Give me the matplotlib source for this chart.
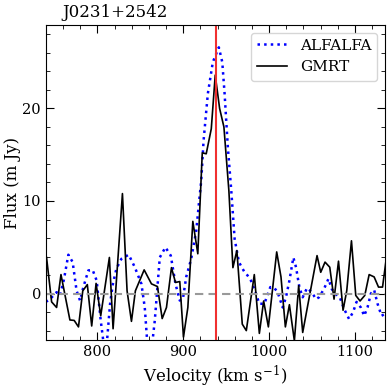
import matplotlib
matplotlib.use("Agg")
import matplotlib.pyplot as plt
from matplotlib.ticker import MultipleLocator

plt.rcParams['font.family'] = 'DejaVu Serif'
plt.rcParams['mathtext.fontset'] = 'dejavuserif'

# ALFALFA spectrum
alfalfa_v = [740, 744.8, 752.5, 756.5, 761, 766.2, 771.2, 775.8, 779.8, 783.7, 789.5, 794.5,
             799.2, 803.9, 807, 810, 814.8, 818, 822.2, 828, 836.5, 843.6, 851.3, 855.2, 858.3,
             862, 866.9, 872.7, 879.3, 885.5, 891, 896, 899.6, 903.5, 909.3, 915.2, 919, 921,
             923.7, 928.7, 934.5, 941.5, 945.5, 948.2, 952, 956, 959.9, 964.9, 971.5, 975,
             978.9, 983.5, 988.7, 994.5, 1001.5, 1006.2, 1010, 1015.9, 1019.7, 1023.7, 1028.3,
             1031.4, 1035.3, 1039.2, 1044.2, 1049.7, 1054.7, 1058.2, 1064, 1069.2, 1073,
             1076.9, 1082.4, 1087.4, 1093.2, 1097.9, 1101.9, 1106.9, 1110.8, 1114.7, 1118.6,
             1122.4, 1126.4, 1131, 1135]
alfalfa_f = [-0.9, -0.6, 0.15, -0.2, 1.5, 4.2, 3.4, 0.3, -0.75, 0.7, 2.5, 2.55,
             1.4, -2.9, -5.2, -6.5, -1.1, 1.0, 2.7, 3.75, 4.2, 2.85, 1.05, -1.5, -5.5,
             -7.0, -2.9, 3.9, 5.0, 4.1, 1.05, -0.75, -0.6, 1.8, 3.75, 6.8, 10.4, 12.2,
             16.5, 21.6, 25.0, 26.6, 25.0, 21.6, 15.8, 11.1, 5.9, 3.4, 2.3, 1.95,
             1.4, 0.3, -1.1, -1.1, 0.7, 0.6, 0.15, -1.5, -0.4, 1.4, 3.9,
             2.85, 0.7, -0.4, 0.6, 0.15, -0.6, -0.4, 0.5, 1.6, 0.5,
             0.0, -0.4, -1.65, -2.75, -2.0, -0.9, -1.5, -2.4, -1.5, 0.0,
             0.4, -1.1, -2.4, -2.2]

# GMRT spectrum
gmrt_v = [740.8, 746.7, 752.5, 757.6, 768, 773, 778, 783, 788.3, 793.4, 798.5, 803.9,
          814, 818.3, 829.2, 834.6, 839.7, 844.3, 854.5, 863, 870, 875.5, 880.5, 886.3,
          891, 896, 900.3, 905.4, 911.2, 917, 922.2, 926.8, 932.7, 937.3, 942.4, 947.4,
          953.2, 957.9, 962.5, 968.8, 973.5, 982.8, 988.7, 993.7, 999.2, 1008.9, 1013.9,
          1019, 1023.7, 1029.5, 1034.5, 1039.2, 1045, 1055.9, 1060.2, 1065.2, 1070.7,
          1075.7, 1080.9, 1086.2, 1090.5, 1096, 1101, 1106, 1111.5, 1116.6, 1122.4,
          1127.5, 1132.2, 1136]
gmrt_f = [3.9, -0.9, -1.5, 2.05, -2.85, -2.9, -3.6, 0.3, 0.97, -3.5, 1.1, -2.4,
          3.9, -3.8, 10.8, 0.3, -3.0, 0.3, 2.56, 1.05, 0.76, -2.7, -1.5, 2.8,
          1.2, 1.3, -4.7, -1.5, 7.8, 4.3, 15.2, 15.1, 17.8, 23.6, 20.0, 18.0,
          11.1, 2.8, 4.65, -3.3, -4.0, 2.05, -4.3, -0.8, -3.6, 4.5, 1.8,
          -3.6, -1.2, -5.1, 0.86, -4.2, -1.3, 4.1, 2.3, 3.4, 2.85,
          -0.6, 3.5, -1.8, 0.3, 5.7, -0.2, -0.8, -0.2, 2.05, 1.8,
          0.7, 0.7, 3.4]

v_sys = 938

fig = plt.figure(figsize=(3.92, 3.92), dpi=100)
ax = fig.add_axes([0.117, 0.133, 0.865, 0.803])

ax.plot(alfalfa_v, alfalfa_f, color='blue', linestyle=':', lw=1.8, label='ALFALFA')
ax.plot(gmrt_v, gmrt_f, color='black', lw=1.2, label='GMRT')
ax.axhline(0, color='#999999', linestyle='--', lw=1.5, dashes=(4, 2.5))
ax.axvline(v_sys, color='#f03030', lw=1.5)

ax.set_xlim(740, 1135)
ax.set_ylim(-5, 29)
ax.xaxis.set_major_locator(MultipleLocator(100))
ax.xaxis.set_minor_locator(MultipleLocator(20))
ax.yaxis.set_major_locator(MultipleLocator(10))
ax.yaxis.set_minor_locator(MultipleLocator(2))
ax.tick_params(which='both', direction='in', top=True, right=True, labelsize=10.5)
ax.tick_params(which='major', length=6)
ax.tick_params(which='minor', length=3)

ax.set_xlabel(r'Velocity (km s$^{-1}$)', fontsize=12)
ax.set_ylabel('Flux (m Jy)', fontsize=12, labelpad=1)
ax.text(0.048, 1.012, 'J0231+2542', transform=ax.transAxes, fontsize=12, va='bottom')
ax.legend(loc='upper right', fontsize=11)

fig.savefig('out.png', dpi=100)
